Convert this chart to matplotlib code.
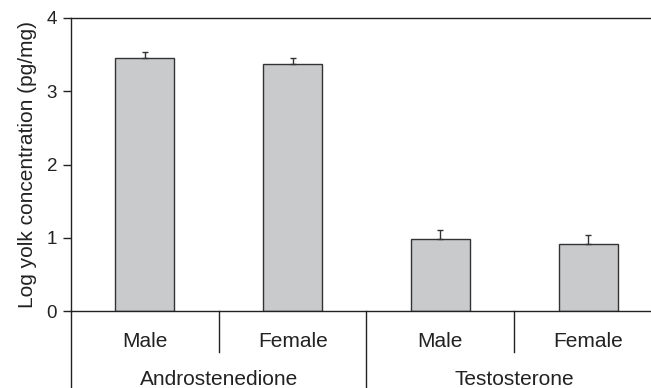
import matplotlib
matplotlib.use("Agg")
import matplotlib.pyplot as plt

groups = ["Androstenedione", "Testosterone"]
sexes = ["Male", "Female", "Male", "Female"]
values = [3.45, 3.37, 0.98, 0.92]
errors = [0.09, 0.09, 0.12, 0.12]
yticks = [0, 1, 2, 3, 4]

plt.rcParams['font.family'] = ['Liberation Sans', 'DejaVu Sans']
fig = plt.figure(figsize=(6.51, 3.88), dpi=100)
ax = fig.add_axes([71/651, 77/388, 1 - 71/651, 293/388])

x = list(range(len(values)))
ax.bar(x, values, width=0.4, color="#c9cacc", edgecolor="#333333", linewidth=1.0, zorder=2)
ax.errorbar(x, values, yerr=[[0]*len(errors), errors], fmt="none", ecolor="#333333",
            elinewidth=1.0, capsize=2, capthick=1.0, zorder=3)

ax.set_xlim(-0.5, -0.5 + (651 - 71) / 147.75)
ax.set_ylim(0, 4)
ax.set_yticks(yticks)
ax.set_yticklabels([str(t) for t in yticks], fontsize=13.5)
ax.tick_params(axis='y', direction='out', length=6, width=1, pad=4, colors="#222222")
ax.tick_params(axis='x', bottom=False, labelbottom=False)
ax.set_ylabel("Log yolk concentration (pg/mg)", fontsize=15, color="#222222", labelpad=7)

ax.spines["right"].set_visible(False)
for s in ["top", "bottom", "left"]:
    ax.spines[s].set_color("#222222")
    ax.spines[s].set_linewidth(1.0)

trans = ax.get_xaxis_transform()
ax.plot([-0.5, -0.5], [0, -77/293], transform=trans, color="#222222", lw=1.0, clip_on=False)
ax.plot([0.5, 0.5], [0, -41/293], transform=trans, color="#222222", lw=1.0, clip_on=False)
ax.plot([1.5, 1.5], [0, -77/293], transform=trans, color="#222222", lw=1.0, clip_on=False)
ax.plot([2.5, 2.5], [0, -41/293], transform=trans, color="#222222", lw=1.0, clip_on=False)

for i, s in enumerate(sexes):
    ax.text(i, -36/293, s, transform=trans, ha="center", va="baseline", fontsize=15, color="#222222")
for j, g in enumerate(groups):
    ax.text(2*j + 0.5, -74/293, g, transform=trans, ha="center", va="baseline", fontsize=15, color="#222222")

fig.savefig("out.png", dpi=100)
